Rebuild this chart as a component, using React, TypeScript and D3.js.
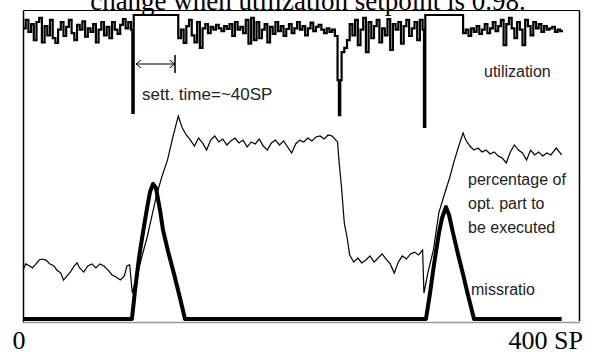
import React from 'react';
import * as d3 from 'd3';

const W = 596;
const H = 352;

const titleText = 'change when utilization setpoint is 0.98.';
const xTickLabels = ['0', '400 SP'];
const annotationText = 'sett. time=~40SP';
const utilLabel = 'utilization';
const pctLabelLines = ['percentage of', 'opt. part to', 'be executed'];
const missLabel = 'missratio';

// utilization, sampled every 2 SP in the noisy stretches
const utilStarts = [0, 115, 240, 326];
const utilNoiseA = [.981,.993,.976,.987,.964,.990,.996,.961,.984,.971,.993,.967,.960,.979,.990,.970,.983,.993,.974,.964,.986,.979,.991,.969,.981,.976,.987,.961,.979,.990,.971,.983,.967,.990,.979,.973,.986,.994,.981,.990,.979];
const utilNoiseB = [.967,.979,.960,.984,.993,.971,.961,.990,.953,.981,.987,.974,.983,.979,.986,.981,.977,.984,.980,.987,.970,.990,.979,.983,.974,.993,.959,.996,.964,.990,.967,.979,.987,.961,.983,.973,.990,.977,.984,.970,.980,.987,.974,.981,.990,.979,.984,.971,.981,.989,.977,.983,.986,.979,.974,.981,.976,.979,.970];
const utilNoiseC = [.964,.987,.971,.993,.957,.979,.996,.947,.990,.967,.984,.993,.961,.981,.971,.994,.950,.987,.979,.990,.959,.984,.993,.970,.981,.990,.964,.993,.979];
const utilNoiseD = [.974,.979,.970,.981,.976,.984,.973,.979,.987,.974,.981,.990,.977,.984,.993,.957,.987,.996,.981,.967,.990,.979,.957,.993,.984,.971,.990,.981,.987,.976,.984,.979,.981,.983,.976,.979,.977];
const utilEventT = [81, 82, 233, 234, 235, 236, 238, 297, 298, 400];
const utilEventV = [0.860, 1.0, 0.907, 0.857, 0.907, 0.947, 0.953, 0.840, 1.0, 0.977];

// percentage of optional part executed
const pctTime = [0,2,5,7,9,12,14,17,20,23,25,28,30,32,35,38,40,42,45,48,51,54,57,60,63,66,69,72,75,77,79,81,
  85,88,92,96,99,103,107,111,115,118,121,
  124,127,130,133,136,139,142,145,148,151,154,157,160,163,166,169,172,175,178,181,184,187,190,193,196,199,202,205,208,211,214,217,220,223,226,229,
  233,234,236,238,240,242,
  245,248,251,254,257,260,263,266,269,272,275,278,281,284,287,290,293,296,
  297,300,304,308,312,316,319,323,326,328,331,334,
  337,340,343,346,349,352,355,358,361,364,367,370,373,376,379,382,385,388,391,395,399];
const pctValue = [24,27,26,25,26.5,28.9,29.4,28.9,27,26,24,22.5,19.1,20.6,23,26,27.5,25,23,26,27,25,27,26,24,21.6,20.6,19.1,21,26,26.5,12.7,
  22.5,30.4,40.2,52,60.8,70,77.9,89.2,99.5,93.6,90.2,
  87.7,84.8,88.7,86.3,82.8,87.7,89.7,86.8,88.2,85.3,87.3,88.7,86.3,87.7,84.3,86.8,85.8,88.2,84.8,82.8,86.3,87.7,85.3,87.3,84.3,81.4,85.8,87.7,86.8,88.7,87.3,89.2,89.7,88.2,90.2,89.7,
  86.8,78,64.2,47,40.2,31.4,
  27.9,29.9,27.5,28.9,30.9,27.9,29.9,31.9,29.4,27,22.5,27.9,30.9,29.4,31.9,32.8,31.4,33.8,
  12.7,23,33.8,52,60.8,69.1,76.5,85.3,91.2,87.7,84.8,82.8,
  83.8,81.9,82.8,80.9,81.9,79.9,78.9,76.5,81.9,85.3,82.8,81.4,77.9,82.8,80.4,81.9,79.9,81.4,80.4,83.8,80.4];

// missratio
const missTime = [0,80.7,83,85.9,88.9,91.9,94.1,96.3,98.5,101.5,103.7,107.4,111.9,116.3,120,298.5,301.5,304.4,308.1,310.4,313.3,315.6,318.5,322.2,325.9,329.6,334.1,399];
const missValue = [0,0,14.2,29.9,42.6,54.4,62.3,66.2,64.2,53.4,43.6,33.3,22,10.3,0,0,12.7,26.5,42.2,49.5,54.9,51,42.2,31.9,22.1,11.8,0,0];

const settStart = 83;
const settEnd = 113;

export default function App() {
  const x = d3.scaleLinear().domain([0, 400]).range([23, 563]);
  const yUtil = d3.scaleLinear().domain([0.85, 1.0]).range([120, 15]);
  const yLow = d3.scaleLinear().domain([0, 100]).range([319, 115]);

  const noise = [utilNoiseA, utilNoiseB, utilNoiseC, utilNoiseD];
  const utilPts: [number, number][] = [];
  noise.forEach((arr, i) => arr.forEach((v, j) => utilPts.push([utilStarts[i] + 2 * j, v])));
  utilEventT.forEach((t, i) => utilPts.push([t, utilEventV[i]]));
  utilPts.sort((a, b) => a[0] - b[0]);

  const utilLine = d3.line<[number, number]>().x(d => x(d[0])).y(d => yUtil(d[1])).curve(d3.curveStepAfter);
  const lowLine = d3.line<[number, number]>().x(d => x(d[0])).y(d => yLow(d[1]));

  const pctPts = pctTime.map((t, i) => [t, pctValue[i]] as [number, number]);
  const missPts = missTime.map((t, i) => [t, missValue[i]] as [number, number]);

  const sans = '"Liberation Sans", Arial, sans-serif';
  const serif = '"Liberation Serif", "Times New Roman", serif';
  const ay = 64;
  const ax1 = x(settStart) + 1;
  const ax2 = x(settEnd) - 1;

  return (
    <svg width={W} height={H} style={{ position: 'absolute', left: 0, top: 0, background: '#fff' }}>
      <rect x={0} y={0} width={W} height={H} fill="#fff" />
      {/* frame */}
      <line x1={23.5} y1={10.5} x2={579.5} y2={10.5} stroke="#000" strokeWidth={1} />
      <line x1={23.5} y1={10.5} x2={23.5} y2={323} stroke="#000" strokeWidth={1.5} />
      <line x1={579.5} y1={10.5} x2={579.5} y2={321} stroke="#000" strokeWidth={1.5} />
      <line x1={23} y1={322.5} x2={580} y2={322.5} stroke="#999" strokeWidth={1.5} />

      <text x={308} y={9.5} textAnchor="middle" fontFamily={serif} fontSize={27} fill="#000">{titleText}</text>

      <path d={utilLine(utilPts) || ''} fill="none" stroke="#000" strokeWidth={2.2} />
      <path d={lowLine(missPts) || ''} fill="none" stroke="#000" strokeWidth={4} strokeLinejoin="round" />
      <path d={lowLine(pctPts) || ''} fill="none" stroke="#000" strokeWidth={1.2} />

      {/* settling time annotation */}
      <line x1={ax1} y1={ay} x2={ax2} y2={ay} stroke="#000" strokeWidth={1} />
      <polyline points={`${ax1 + 5},${ay - 4} ${ax1},${ay} ${ax1 + 5},${ay + 4}`} fill="none" stroke="#000" strokeWidth={1} />
      <polyline points={`${ax2 - 5},${ay - 4} ${ax2},${ay} ${ax2 - 5},${ay + 4}`} fill="none" stroke="#000" strokeWidth={1} />
      <line x1={ax2 + 0.5} y1={55} x2={ax2 + 0.5} y2={73} stroke="#000" strokeWidth={1.5} />
      <text x={142} y={100} fontFamily={sans} fontSize={17} fill="#222">{annotationText}</text>

      <text x={484} y={77} fontFamily={sans} fontSize={16} fill="#222">{utilLabel}</text>
      {pctLabelLines.map((s, i) => (
        <text key={s} x={468} y={185 + i * 24} fontFamily={sans} fontSize={16} fill="#222">{s}</text>
      ))}
      <text x={471} y={295} fontFamily={sans} fontSize={16} fill="#222">{missLabel}</text>

      <text x={x(0) - 4} y={349} textAnchor="middle" fontFamily={serif} fontSize={26} fill="#000">{xTickLabels[0]}</text>
      <text x={x(400) + 20} y={349} textAnchor="end" fontFamily={serif} fontSize={26} fill="#000">{xTickLabels[1]}</text>
    </svg>
  );
}
